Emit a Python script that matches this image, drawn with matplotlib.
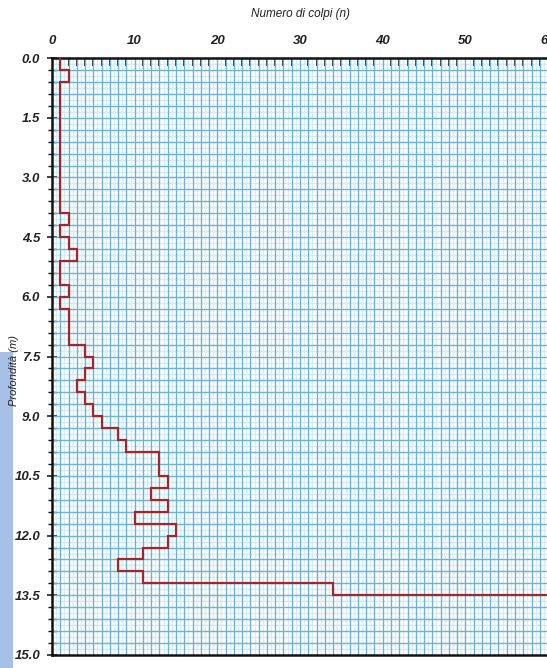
import numpy as np
import matplotlib.pyplot as plt
import matplotlib.ticker as mticker
from matplotlib.patches import Rectangle

# Dati della prova penetrometrica (colpi ogni 0.3 m)
depth_top = np.round(np.arange(0, 13.5, 0.3), 1)
blows = [1, 2, 1, 1, 1, 1, 1, 1, 1, 1, 1, 1, 1,
         2, 1, 2, 3, 1, 1, 2, 1, 2, 2, 2,
         4, 5, 4, 3, 4, 5, 6, 8, 9, 13, 13,
         14, 12, 14, 10, 15, 14, 11, 8, 11, 34]
refusal_depth = 13.5
refusal_blows = 70

xticks = [0, 10, 20, 30, 40, 50, 60]
yticks = [0.0, 1.5, 3.0, 4.5, 6.0, 7.5, 9.0, 10.5, 12.0, 13.5, 15.0]

fam = ['Liberation Sans Narrow', 'Liberation Sans', 'DejaVu Sans']
plt.rcParams['font.family'] = fam

fig = plt.figure(figsize=(5.47, 6.68), dpi=100)
ax = fig.add_axes([0.095, 0.0195, 0.907, 0.8935])

# blue strip at the left edge (scan background)
fig.patches.append(Rectangle((0, 0), 13 / 547, 316 / 668, transform=fig.transFigure,
                             facecolor='#a9c0e6', edgecolor='none', zorder=0))

# step line
xs = []
ys = []
for d, b in zip(depth_top, blows):
    xs += [b, b]
    ys += [d, d + 0.3]
xs += [refusal_blows]
ys += [refusal_depth]
ax.plot(xs, ys, color='#a3262a', lw=1.6, zorder=5, solid_joinstyle='miter')

ax.set_xlim(0, 60)
ax.set_ylim(15, 0)

# graph paper grid: faint half lines + main lines
for v in np.arange(0.5, 60, 1):
    ax.axvline(v, color='#d5ebf6', lw=1.0, zorder=1)
for h in np.arange(0.15, 15, 0.3):
    ax.axhline(h, color='#d5ebf6', lw=1.0, zorder=1)
for v in np.arange(1, 60, 1):
    ax.axvline(v, color='#6cb2d4', lw=1.0, zorder=2)
for h in np.arange(0.3, 15, 0.3):
    ax.axhline(h, color='#6cb2d4', lw=1.0, zorder=2)

ax.xaxis.tick_top()
ax.xaxis.set_label_position('top')
ax.set_xticks(xticks)
ax.xaxis.set_minor_locator(mticker.MultipleLocator(1))
ax.set_yticks(yticks)
ax.yaxis.set_major_formatter(mticker.FormatStrFormatter('%.1f'))
ax.yaxis.set_minor_locator(mticker.MultipleLocator(0.3))

ax.tick_params(axis='x', which='major', direction='in', length=0, pad=8,
               labelsize=9.5, colors='#222222')
ax.tick_params(axis='x', which='minor', direction='in', length=6, width=1.2, color='#111111')
ax.tick_params(axis='y', which='major', direction='inout', length=7, width=1.2, pad=5,
               labelsize=9.5, colors='#222222')
ax.tick_params(axis='y', which='minor', direction='inout', length=6, width=1.0, color='#111111')
for lab in ax.get_xticklabels() + ax.get_yticklabels():
    lab.set_fontstyle('italic')
    lab.set_fontweight('bold')

for s in ['top', 'left', 'bottom']:
    ax.spines[s].set_linewidth(1.8)
    ax.spines[s].set_color('#111111')
ax.spines['right'].set_visible(False)

fig.text(300 / 547, 1 - 14 / 668, 'Numero di colpi (n)', ha='center', va='center',
         fontsize=8.5, style='italic', color='#222222')
fig.text(14 / 547, 1 - 370 / 668, 'Profondità (m)', ha='center', va='center',
         fontsize=8, style='italic', rotation=90, color='#222222')

fig.savefig('out.png', dpi=100)
